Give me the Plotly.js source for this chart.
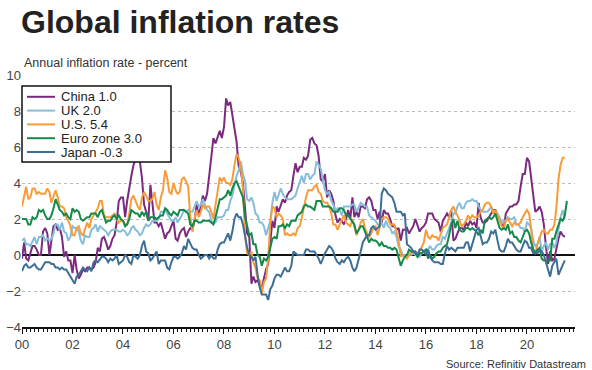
<!DOCTYPE html>
<html>
<head>
<meta charset="utf-8">
<script src="https://cdn.plot.ly/plotly-3.0.1.min.js"></script>
<style>
html,body{margin:0;padding:0;background:#fff;}
#chart{width:592px;height:370px;}
</style>
</head>
<body>
<div id="chart"></div>
<script>
// Monthly series, starting January 2000
var startYear = 2000;
var seriesNames = ["China", "UK", "U.S.", "Euro zone", "Japan"];
var seriesColors = ["#7a2b80", "#86bddb", "#f89c3a", "#138a4a", "#3d6f96"];

var china = [
 -0.2,0.7,-0.2,-0.3,0.1,0.5,0.5,0.3,0.0,0.0,1.3,1.5,
 1.2,0.0,0.8,1.6,1.7,1.4,1.5,1.0,-0.1,0.2,-0.3,-0.3,
 -1.0,0.0,-0.8,-1.3,-1.1,-0.8,-0.9,-0.7,-0.7,-0.8,-0.7,-0.4,
 0.4,0.2,0.9,1.0,0.7,0.3,0.5,0.9,1.1,1.8,3.0,3.2,
 3.2,2.1,3.0,3.8,4.4,5.0,5.3,5.3,5.2,4.3,2.8,2.4,
 1.9,3.9,2.7,1.8,1.8,1.6,1.8,1.3,0.9,1.2,1.3,1.6,
 1.9,0.9,0.8,1.2,1.4,1.5,1.0,1.3,1.5,1.4,1.9,2.8,
 2.2,2.7,3.3,3.0,3.4,4.4,5.6,6.5,6.2,6.5,6.9,6.5,
 7.1,8.7,8.3,8.5,7.7,7.1,6.3,4.9,4.6,4.0,2.4,1.2,
 1.0,-1.6,-1.2,-1.5,-1.4,-1.7,-1.8,-1.2,-0.8,-0.5,0.6,1.9,
 1.5,2.7,2.4,2.8,3.1,2.9,3.3,3.5,3.6,4.4,5.1,4.6,
 4.9,4.9,5.4,5.3,5.5,6.4,6.5,6.2,6.1,5.5,4.2,4.1,
 4.5,3.2,3.6,3.4,3.0,2.2,1.8,2.0,1.9,1.7,2.0,2.5,
 2.0,3.2,2.1,2.4,2.1,2.7,2.7,2.6,3.1,3.2,3.0,2.5,
 2.5,2.0,2.4,1.8,2.5,2.3,2.3,2.0,1.6,1.6,1.4,1.5,
 0.8,1.4,1.4,1.5,1.2,1.4,1.6,2.0,1.6,1.3,1.5,1.6,
 1.8,2.3,2.3,2.3,2.0,1.9,1.8,1.3,1.9,2.1,2.3,2.1,
 2.5,0.8,0.9,1.2,1.5,1.5,1.4,1.8,1.6,1.9,1.7,1.8,
 1.5,2.9,2.1,1.8,1.8,1.9,2.1,2.3,2.5,2.5,2.2,1.9,
 1.7,1.5,2.3,2.5,2.7,2.7,2.8,2.8,3.0,3.8,4.5,4.5,
 5.4,5.2,4.3,3.3,2.4,2.5,2.7,2.4,1.7,0.5,-0.5,0.2,
 -0.3,-0.2,0.4,0.9,1.3,1.1,1.0];

var uk = [
 0.8,0.9,0.6,0.6,0.5,0.8,1.0,0.6,1.0,1.0,1.1,0.8,
 0.9,0.8,0.9,1.2,1.7,1.7,1.4,1.8,1.3,1.2,0.8,1.0,
 1.6,1.5,1.5,1.3,0.8,0.6,1.1,1.0,1.0,1.4,1.5,1.7,
 1.3,1.6,1.5,1.4,1.3,1.1,1.3,1.4,1.4,1.4,1.3,1.3,
 1.4,1.3,1.1,1.2,1.5,1.6,1.4,1.3,1.1,1.2,1.5,1.7,
 1.6,1.7,1.9,1.9,1.9,2.0,2.4,2.4,2.5,2.3,2.1,1.9,
 1.9,2.1,1.8,2.0,2.2,2.5,2.4,2.5,2.4,2.4,2.7,3.0,
 2.7,2.8,3.1,2.8,2.5,2.4,1.9,1.8,1.8,2.1,2.1,2.1,
 2.2,2.5,2.5,3.0,3.3,3.8,4.4,4.7,5.2,4.5,4.1,3.1,
 3.0,3.2,2.9,2.3,2.2,1.8,1.8,1.6,1.1,1.5,1.9,2.9,
 3.5,3.0,3.4,3.7,3.4,3.2,3.1,3.1,3.1,3.2,3.3,3.7,
 4.0,4.4,4.0,4.5,4.5,4.2,4.4,4.5,5.2,5.0,4.8,4.2,
 3.6,3.4,3.5,3.0,2.8,2.4,2.6,2.5,2.2,2.7,2.7,2.7,
 2.7,2.8,2.8,2.4,2.7,2.9,2.8,2.7,2.7,2.2,2.1,2.0,
 1.9,1.7,1.6,1.8,1.5,1.9,1.6,1.5,1.2,1.3,1.0,0.5,
 0.3,0.0,0.0,-0.1,0.1,0.0,0.1,0.0,-0.1,-0.1,0.1,0.2,
 0.3,0.3,0.5,0.3,0.3,0.5,0.6,0.6,1.0,0.9,1.2,1.6,
 1.8,2.3,2.3,2.7,2.9,2.6,2.6,2.9,3.0,3.0,3.1,3.0,
 3.0,2.7,2.5,2.4,2.4,2.4,2.5,2.7,2.4,2.4,2.3,2.1,
 1.8,1.9,1.9,2.1,2.0,2.0,2.1,1.7,1.7,1.5,1.5,1.3,
 1.8,1.7,1.5,0.8,0.5,0.6,1.0,0.2,0.5,0.7,0.3,0.6,
 0.7,0.4,0.7,1.5,2.1,2.5,2.0];

var us = [
 2.7,3.2,3.8,3.1,3.2,3.7,3.7,3.4,3.5,3.4,3.4,3.4,
 3.7,3.5,2.9,3.3,3.6,3.2,2.7,2.7,2.6,2.1,1.9,1.6,
 1.1,1.1,1.5,1.6,1.2,1.1,1.5,1.8,1.5,2.0,2.2,2.4,
 2.6,3.0,3.0,2.2,2.1,2.1,2.1,2.2,2.3,2.0,1.8,1.9,
 1.9,1.7,1.7,2.3,3.1,3.3,3.0,2.7,2.5,3.2,3.5,3.3,
 3.0,3.0,3.1,3.5,2.8,2.5,3.2,3.6,4.7,4.3,3.5,3.4,
 4.0,3.6,3.4,3.5,4.2,4.3,4.1,3.8,2.1,1.3,2.0,2.5,
 2.1,2.4,2.8,2.6,2.7,2.7,2.4,2.0,2.8,3.5,4.3,4.1,
 4.3,4.0,4.0,3.9,4.2,5.0,5.6,5.4,4.9,3.7,1.1,0.1,
 0.0,0.2,-0.4,-0.7,-1.3,-1.4,-2.1,-1.5,-1.3,-0.2,1.8,2.7,
 2.6,2.1,2.3,2.2,2.0,1.1,1.2,1.1,1.1,1.2,1.1,1.5,
 1.6,2.1,2.7,3.2,3.6,3.6,3.6,3.8,3.9,3.5,3.4,3.0,
 2.9,2.9,2.7,2.3,1.7,1.7,1.4,1.7,2.0,2.2,1.8,1.7,
 1.6,2.0,1.5,1.1,1.4,1.8,2.0,1.5,1.2,1.0,1.2,1.5,
 1.6,1.1,1.5,2.0,2.1,2.1,2.0,1.7,1.7,1.7,1.3,0.8,
 -0.1,0.0,-0.1,-0.2,0.0,0.1,0.2,0.2,0.0,0.2,0.5,0.7,
 1.4,1.0,0.9,1.1,1.0,1.0,0.8,1.1,1.5,1.6,1.7,2.1,
 2.5,2.7,2.4,2.2,1.9,1.6,1.7,1.9,2.2,2.0,2.2,2.1,
 2.1,2.2,2.4,2.5,2.8,2.9,2.9,2.7,2.3,2.5,2.2,1.9,
 1.6,1.5,1.9,2.0,1.8,1.6,1.8,1.7,1.7,1.8,2.1,2.3,
 2.5,2.3,1.5,0.3,0.1,0.6,1.0,1.3,1.4,1.2,1.2,1.4,
 1.4,1.7,2.6,4.2,5.0,5.4,5.4];

var euro = [
 2.0,2.0,2.0,1.7,1.7,2.1,2.0,2.1,2.5,2.4,2.5,2.2,
 2.0,2.0,2.2,2.6,3.1,2.8,2.5,2.4,2.2,2.3,2.1,2.0,
 2.6,2.4,2.5,2.4,2.0,1.9,2.0,2.1,2.1,2.3,2.3,2.3,
 2.1,2.4,2.5,2.1,1.8,1.9,1.9,2.1,2.2,2.0,2.2,2.0,
 1.9,1.6,1.7,2.0,2.5,2.4,2.3,2.3,2.1,2.4,2.2,2.4,
 1.9,2.1,2.1,2.1,2.0,2.1,2.2,2.2,2.6,2.5,2.3,2.2,
 2.4,2.3,2.2,2.5,2.5,2.5,2.4,2.3,1.7,1.6,1.9,1.9,
 1.8,1.8,1.9,1.9,1.9,1.9,1.8,1.7,2.1,2.6,3.1,3.1,
 3.2,3.3,3.6,3.3,3.7,4.0,4.1,3.8,3.6,3.2,2.1,1.6,
 1.1,1.2,0.6,0.6,0.0,-0.1,-0.6,-0.2,-0.3,-0.1,0.5,0.9,
 1.0,0.9,1.6,1.6,1.7,1.5,1.7,1.6,1.9,1.9,1.9,2.2,
 2.3,2.4,2.7,2.8,2.7,2.7,2.6,2.5,3.0,3.0,3.0,2.7,
 2.7,2.7,2.7,2.6,2.4,2.4,2.4,2.6,2.6,2.5,2.2,2.2,
 2.0,1.8,1.7,1.2,1.4,1.6,1.6,1.3,1.1,0.7,0.9,0.8,
 0.8,0.7,0.5,0.7,0.5,0.5,0.4,0.4,0.3,0.4,0.3,-0.2,
 -0.6,-0.3,-0.1,0.0,0.3,0.2,0.2,0.1,-0.1,0.1,0.1,0.2,
 0.3,-0.2,0.0,-0.2,-0.1,0.1,0.2,0.2,0.4,0.5,0.6,1.1,
 1.7,2.0,1.5,1.9,1.4,1.3,1.3,1.5,1.5,1.4,1.5,1.4,
 1.3,1.1,1.4,1.2,1.9,2.0,2.1,2.0,2.1,2.3,1.9,1.5,
 1.4,1.5,1.4,1.7,1.2,1.3,1.0,1.0,0.8,0.7,1.0,1.3,
 1.4,1.2,0.7,0.3,0.1,0.3,0.4,-0.2,-0.3,-0.3,-0.3,-0.3,
 0.9,0.9,1.3,1.6,2.0,1.9,2.2,3.0];

var japan = [
 -0.9,-0.6,-0.5,-0.7,-0.7,-0.6,-0.5,-0.7,-0.8,-0.8,-0.6,-0.4,
 -0.4,-0.4,-0.5,-0.5,-0.7,-0.7,-0.8,-0.7,-0.8,-0.8,-1.0,-1.2,
 -1.4,-1.6,-1.2,-1.1,-0.9,-0.7,-0.8,-0.9,-0.7,-0.9,-0.4,-0.3,
 -0.4,-0.2,-0.1,-0.1,-0.2,-0.4,-0.2,-0.3,-0.2,0.0,-0.5,-0.4,
 -0.3,0.0,-0.1,-0.4,-0.5,0.0,-0.1,-0.2,0.0,0.5,0.8,0.2,
 0.1,-0.3,-0.2,0.0,0.2,-0.5,-0.3,-0.3,-0.3,-0.7,-0.8,-0.4,
 -0.1,-0.1,-0.2,-0.1,0.1,0.5,0.3,0.9,0.6,0.4,0.3,0.3,
 0.0,-0.2,-0.1,0.0,0.0,-0.2,0.0,-0.2,-0.2,0.3,0.6,0.7,
 0.7,1.0,1.2,0.8,1.3,2.0,2.3,2.1,2.1,1.7,1.0,0.4,
 0.0,-0.1,-0.3,-0.1,-1.1,-1.8,-2.2,-2.2,-2.2,-2.5,-1.9,-1.7,
 -1.3,-1.1,-1.1,-1.2,-0.9,-0.7,-0.9,-0.9,-0.6,0.2,0.1,0.0,
 0.0,0.0,0.0,0.3,0.3,0.2,0.2,0.2,0.0,-0.2,-0.5,-0.2,
 0.1,0.3,0.5,0.4,0.2,-0.2,-0.4,-0.5,-0.3,-0.4,-0.2,-0.1,
 -0.3,-0.7,-0.9,-0.7,-0.3,0.2,0.7,0.9,1.1,1.1,1.5,1.6,
 1.4,1.5,1.6,3.4,3.7,3.6,3.4,3.3,3.2,2.9,2.4,2.4,
 2.4,2.2,2.3,0.6,0.5,0.4,0.2,0.2,0.0,0.3,0.3,0.2,
 0.0,0.3,-0.1,-0.3,-0.4,-0.4,-0.4,-0.5,-0.5,0.1,0.5,0.3,
 0.4,0.3,0.2,0.4,0.4,0.4,0.4,0.7,0.7,0.2,0.6,1.0,
 1.4,1.5,1.1,0.6,0.7,0.7,0.9,1.3,1.2,1.4,0.8,0.3,
 0.2,0.2,0.5,0.9,0.7,0.7,0.5,0.3,0.2,0.2,0.5,0.8,
 0.7,0.4,0.4,0.1,0.1,0.1,0.3,0.2,0.0,-0.4,-0.9,-1.2,
 -0.6,-0.4,-0.2,-1.1,-0.8,-0.5,-0.3];

var yTicks = [-4, -2, 0, 2, 4, 6, 8, 10];
var titleText = "Global inflation rates";
var subtitleText = "Annual inflation rate - percent";
var sourceText = "Source: Refinitiv Datastream";

var allSeries = [china, uk, us, euro, japan];

function monthDates(n) {
  var out = [];
  for (var i = 0; i < n; i++) {
    var y = startYear + Math.floor(i / 12);
    var m = (i % 12) + 1;
    out.push(y + "-" + (m < 10 ? "0" + m : m) + "-01");
  }
  return out;
}

var FONT = "Liberation Sans, Arial, Helvetica, sans-serif";

var traces = allSeries.map(function (vals, k) {
  return {
    type: "scatter",
    mode: "lines",
    x: monthDates(vals.length),
    y: vals,
    name: seriesNames[k],
    line: { color: seriesColors[k], width: 2 },
    hoverinfo: "skip",
    showlegend: false
  };
});

// Custom compact legend (box + samples + labels)
var plotW = 592 - 22 - 17, plotH = 370 - 75 - 43;
function px2x(p) { return (p - 22) / plotW; }
function py2y(p) { return 1 - (p - 75) / plotH; }

var shapes = [{
  type: "rect", xref: "paper", yref: "paper", layer: "above",
  x0: px2x(22), x1: px2x(171), y0: py2y(162), y1: py2y(86),
  fillcolor: "#ffffff", line: { color: "#111", width: 1.5 }
}];
var annotations = [];
seriesNames.forEach(function (nm, k) {
  var vals = allSeries[k];
  var last = vals[vals.length - 1];
  var cy = 96.8 + k * 13.8;
  shapes.push({
    type: "line", xref: "paper", yref: "paper", layer: "above",
    x0: px2x(27), x1: px2x(55), y0: py2y(cy), y1: py2y(cy),
    line: { color: seriesColors[k], width: 2 }
  });
  annotations.push({
    xref: "paper", yref: "paper", x: px2x(59), y: py2y(cy),
    xanchor: "left", yanchor: "middle", showarrow: false,
    text: nm + " " + last.toFixed(1),
    font: { family: FONT, size: 13, color: "#222" }
  });
});
annotations.push({
  xref: "paper", yref: "paper", x: px2x(22), y: py2y(63),
  xanchor: "left", yanchor: "middle", showarrow: false,
  text: subtitleText,
  font: { family: FONT, size: 12.5, color: "#333" }
});
annotations.push({
  xref: "paper", yref: "paper", x: px2x(588), y: py2y(364),
  xanchor: "right", yanchor: "middle", showarrow: false,
  text: sourceText,
  font: { family: FONT, size: 11, color: "#333" }
});

var layout = {
  width: 592, height: 370,
  margin: { l: 22, r: 17, t: 75, b: 43, pad: 0 },
  paper_bgcolor: "#fff", plot_bgcolor: "#fff",
  title: {
    text: "<b>" + titleText + "</b>",
    font: { family: FONT, size: 32, color: "#222" },
    x: 21 / 592, xanchor: "left", xref: "container",
    y: 1 - 22 / 370, yanchor: "middle", yref: "container"
  },
  xaxis: {
    type: "date",
    range: ["2000-01-01", "2021-11-26"],
    tick0: "2000-01-01", dtick: "M24", tickformat: "%y",
    ticks: "outside", ticklen: 5, tickwidth: 1, tickcolor: "#111",
    showline: true, linecolor: "#111", linewidth: 1.5,
    showgrid: false, zeroline: false,
    tickfont: { family: FONT, size: 13, color: "#444" },
    minor: { dtick: "M2", tick0: "2000-01-01", ticks: "outside", ticklen: 3, tickwidth: 1, tickcolor: "#111", showgrid: false },
    fixedrange: true
  },
  yaxis: {
    range: [-4, 10], tickvals: yTicks,
    showgrid: true, gridcolor: "#bbbbbb", gridwidth: 1, griddash: "dot",
    zeroline: true, zerolinecolor: "#111", zerolinewidth: 1.5,
    showline: false, ticks: "",
    tickfont: { family: FONT, size: 13, color: "#444" },
    fixedrange: true
  },
  shapes: shapes,
  annotations: annotations,
  showlegend: false
};

Plotly.newPlot("chart", traces, layout, { displayModeBar: false, staticPlot: true });
</script>
</body>
</html>
